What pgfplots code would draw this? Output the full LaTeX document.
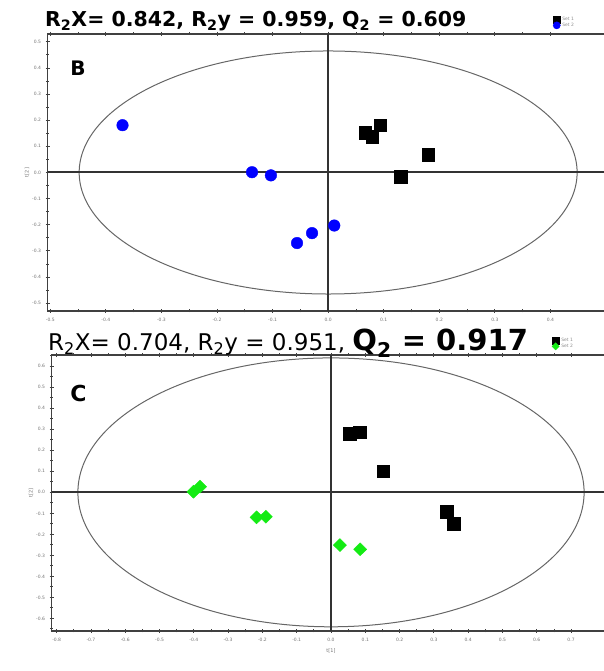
\documentclass[border=0pt]{standalone}
\usepackage{fontspec}
\setmainfont{DejaVu Sans}
\usepackage{pgfplots}
\pgfplotsset{compat=1.18}
\definecolor{lime}{RGB}{20,235,20}

\pgfplotstableread{
x y
-0.370 0.181
-0.137 0.001
-0.103 -0.011
-0.056 -0.270
-0.029 -0.232
0.011 -0.203
}\Bblue
\pgfplotstableread{
x y
0.067 0.153
0.079 0.137
0.094 0.181
0.180 0.067
0.131 -0.016
}\Bblack
\pgfplotstableread{
x y
-0.401 0.003
-0.382 0.027
-0.217 -0.119
-0.190 -0.116
0.026 -0.251
0.085 -0.271
}\Cgreen
\pgfplotstableread{
x y
0.055 0.278
0.083 0.286
0.152 0.101
0.337 -0.092
0.357 -0.148
}\Cblack

\pgfplotsset{
  pcastyle/.style={
    scale only axis,
    axis line style={black!75, line width=1.2pt},
    tick style={black!75, line width=0.8pt},
    tick align=center,
    major tick length=4pt,
    minor tick length=3pt,
    minor tick num=1,
    ytick distance=0.1,
    tick label style={font=\fontsize{4.5}{5}\selectfont, text=black!55},
    /pgf/number format/assume math mode=true,
    /pgf/number format/fixed, /pgf/number format/fixed zerofill,
    /pgf/number format/precision=1,
    xticklabel style={yshift=-2pt},
    yticklabel style={xshift=-1pt},
    clip=false,
    legend cell align=left,
    legend image post style={mark size=3.6pt},
  }
}

\begin{document}
\begin{tikzpicture}
\useasboundingbox (0pt,0pt) rectangle (603pt,671pt);

% ---------------- Panel B ----------------
\begin{axis}[pcastyle,
  at={(47.5pt,360pt)}, anchor=south west,
  width=558.5pt, height=277pt,
  xmin=-0.505, xmax=0.5, ymin=-0.53, ymax=0.53,
  xtick={-0.5,-0.4,-0.3,-0.2,-0.1,0,0.1,0.2,0.3,0.4},
  ylabel={t[2]}, ylabel style={font=\fontsize{5}{5}\selectfont, text=black!55, yshift=-4pt},
  legend style={at={(0.905,1.0)}, anchor=south west, draw=none, fill=none,
    font=\fontsize{4.5}{5}\selectfont, text=black!45, row sep=-3pt, inner sep=0pt, yshift=4pt},
]
\draw[black!60, line width=1pt] (axis cs:0,0) ellipse [x radius=0.448, y radius=0.465];
\draw[black!80, line width=2pt] (axis cs:-0.505,0) -- (axis cs:0.5,0);
\draw[black!80, line width=2pt] (axis cs:0,-0.53) -- (axis cs:0,0.53);
\addplot[only marks, mark=square*, mark size=6.3pt, black] table {\Bblack};
\addplot[only marks, mark=*, mark size=5.8pt, blue] table {\Bblue};
\legend{Set 1, Set 2}
\node[font=\bfseries\fontsize{20}{20}\selectfont, anchor=west] at (axis cs:-0.47,0.4) {B};
\end{axis}

% ---------------- Panel C ----------------
\begin{axis}[pcastyle,
  at={(51.5pt,40pt)}, anchor=south west,
  width=559pt, height=276pt,
  xmin=-0.815, xmax=0.815, ymin=-0.66, ymax=0.654,
  xtick={-0.8,-0.7,-0.6,-0.5,-0.4,-0.3,-0.2,-0.1,0,0.1,0.2,0.3,0.4,0.5,0.6,0.7},
  xlabel={t[1]}, xlabel style={font=\fontsize{5}{5}\selectfont, text=black!55},
  ylabel={t[2]}, ylabel style={font=\fontsize{5}{5}\selectfont, text=black!55, yshift=-4pt},
  legend style={at={(0.895,1.0)}, anchor=south west, draw=none, fill=none,
    font=\fontsize{4.5}{5}\selectfont, text=black!45, row sep=-3pt, inner sep=0pt, yshift=4pt},
]
\draw[black!60, line width=1pt] (axis cs:0,0) ellipse [x radius=0.738, y radius=0.64];
\draw[black!80, line width=2pt] (axis cs:-0.815,0) -- (axis cs:0.815,0);
\draw[black!80, line width=2pt] (axis cs:0,-0.66) -- (axis cs:0,0.654);
\addplot[only marks, mark=square*, mark size=6.3pt, black] table {\Cblack};
\addplot[only marks, mark=diamond*, mark size=6.5pt, lime, mark options={xscale=1.35}] table {\Cgreen};
\legend{Set 1, Set 2}
\node[font=\bfseries\fontsize{22}{22}\selectfont, anchor=west] at (axis cs:-0.77,0.47) {C};
\end{axis}

% ---------------- Titles ----------------
\node[anchor=base west, inner sep=0pt, font=\bfseries\fontsize{20.5}{20.5}\selectfont]
  at (45pt,644pt) {R\textsubscript{2}X= 0.842, R\textsubscript{2}y = 0.959, Q\textsubscript{2} = 0.609};
\node[anchor=base west, inner sep=0pt, font=\fontsize{23}{23}\selectfont]
  at (48pt,320pt) {R\textsubscript{2}X= 0.704, R\textsubscript{2}y = 0.951, {\bfseries\fontsize{29}{29}\selectfont Q\textsubscript{2} = 0.917}};
\end{tikzpicture}
\end{document}
